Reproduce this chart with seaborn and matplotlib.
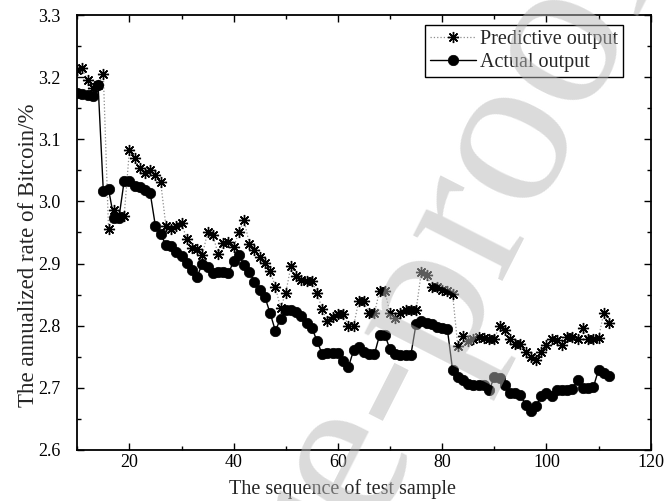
import matplotlib
matplotlib.use("Agg")
import matplotlib.pyplot as plt
from matplotlib.ticker import MultipleLocator, FormatStrFormatter
import pandas as pd
import seaborn as sns

# test samples 10..112
start_idx = 10

predictive = [
    3.211, 3.214, 3.195, 3.182, 3.188, 3.205, 2.955, 2.986, 2.977, 2.977,   # 10-19
    3.082, 3.070, 3.053, 3.046, 3.051, 3.042, 3.031, 2.961, 2.955, 2.960,   # 20-29
    2.965, 2.940, 2.925, 2.924, 2.914, 2.950, 2.946, 2.916, 2.933, 2.935,   # 30-39
    2.927, 2.950, 2.970, 2.932, 2.921, 2.911, 2.901, 2.888, 2.863, 2.828,   # 40-49
    2.853, 2.896, 2.880, 2.873, 2.872, 2.872, 2.853, 2.826, 2.807, 2.814,   # 50-59
    2.818, 2.819, 2.800, 2.799, 2.840, 2.839, 2.820, 2.820, 2.856, 2.856,   # 60-69
    2.820, 2.812, 2.821, 2.825, 2.825, 2.825, 2.886, 2.882, 2.863, 2.863,   # 70-79
    2.857, 2.855, 2.851, 2.767, 2.783, 2.776, 2.779, 2.781, 2.780, 2.779,   # 80-89
    2.779, 2.799, 2.793, 2.778, 2.771, 2.770, 2.758, 2.750, 2.744, 2.758,   # 90-99
    2.769, 2.779, 2.777, 2.769, 2.781, 2.781, 2.778, 2.796, 2.778, 2.778,   # 100-109
    2.780, 2.821, 2.805,                                                    # 110-112
]

actual = [
    3.174, 3.173, 3.172, 3.170, 3.187, 3.016, 3.020, 2.974, 2.974, 3.033,   # 10-19
    3.033, 3.024, 3.023, 3.018, 3.013, 2.960, 2.947, 2.930, 2.929, 2.918,   # 20-29
    2.912, 2.901, 2.890, 2.879, 2.900, 2.894, 2.885, 2.886, 2.886, 2.884,   # 30-39
    2.904, 2.914, 2.898, 2.887, 2.870, 2.857, 2.846, 2.820, 2.792, 2.811,   # 40-49
    2.825, 2.825, 2.822, 2.816, 2.805, 2.797, 2.775, 2.754, 2.756, 2.756,   # 50-59
    2.756, 2.743, 2.733, 2.760, 2.765, 2.758, 2.755, 2.754, 2.785, 2.785,   # 60-69
    2.762, 2.754, 2.752, 2.753, 2.753, 2.803, 2.808, 2.805, 2.802, 2.798,   # 70-79
    2.796, 2.794, 2.729, 2.718, 2.712, 2.706, 2.705, 2.705, 2.705, 2.696,   # 80-89
    2.717, 2.716, 2.704, 2.691, 2.691, 2.688, 2.673, 2.662, 2.670, 2.686,   # 90-99
    2.691, 2.686, 2.696, 2.697, 2.697, 2.698, 2.713, 2.700, 2.700, 2.701,   # 100-109
    2.729, 2.723, 2.719,                                                    # 110-112
]

samples = list(range(start_idx, start_idx + len(actual)))

df = pd.DataFrame({"sample": samples, "Predictive output": predictive, "Actual output": actual})

sns.set_style("ticks")
plt.rcParams["font.family"] = ["Liberation Serif", "DejaVu Serif"]

fig, ax = plt.subplots(figsize=(6.66, 5.01), dpi=100)
fig.subplots_adjust(left=0.116, right=0.977, top=0.970, bottom=0.102)

sns.lineplot(data=df, x="sample", y="Predictive output", ax=ax, color="#8c8c8c",
             linestyle=":", linewidth=0.9, marker=(8, 2, 0), markersize=8,
             markeredgecolor="black", markeredgewidth=1.0, label="Predictive output",
             errorbar=None)
sns.lineplot(data=df, x="sample", y="Actual output", ax=ax, color="black",
             linestyle="-", linewidth=1.0, marker="o", markersize=7.5,
             markerfacecolor="black", markeredgecolor="black", markeredgewidth=0.5,
             label="Actual output", errorbar=None)

ax.set_xlim(10, 120)
ax.set_ylim(2.6, 3.3)
ax.xaxis.set_major_locator(MultipleLocator(20))
ax.xaxis.set_minor_locator(MultipleLocator(10))
ax.yaxis.set_major_locator(MultipleLocator(0.1))
ax.yaxis.set_minor_locator(MultipleLocator(0.05))
ax.yaxis.set_major_formatter(FormatStrFormatter("%.1f"))

ax.tick_params(which="both", direction="in", top=True, right=True, width=1.0, colors="black")
ax.tick_params(which="major", length=5)
ax.tick_params(which="minor", length=3)
ax.tick_params(axis="x", which="major", labelsize=13, pad=3)
ax.tick_params(axis="y", which="major", labelsize=13, pad=12)
for sp in ax.spines.values():
    sp.set_linewidth(1.3)
    sp.set_color("black")

ax.set_xlabel("The sequence of test sample", fontsize=14.5)
ax.set_ylabel("The annualized rate of Bitcoin/%", fontsize=16.5)
ax.xaxis.set_label_coords(0.462, -0.066)
ax.yaxis.set_label_coords(-0.066, 0.448)

leg = ax.legend(loc="upper right", bbox_to_anchor=(0.952, 0.977), borderaxespad=0,
                fontsize=14.5, frameon=True, fancybox=False, framealpha=1,
                edgecolor="black", handlelength=2.3, handletextpad=0.2,
                labelspacing=0.2, borderpad=0.25)
leg.get_frame().set_linewidth(1.0)

# journal watermark
fig.text(0.405, -0.24, "Journal Pre-proof", fontsize=158, color="#b8b8b8", alpha=0.5,
         rotation=63, rotation_mode="anchor", ha="center", va="center", zorder=10)

fig.savefig("out.png", dpi=100)
